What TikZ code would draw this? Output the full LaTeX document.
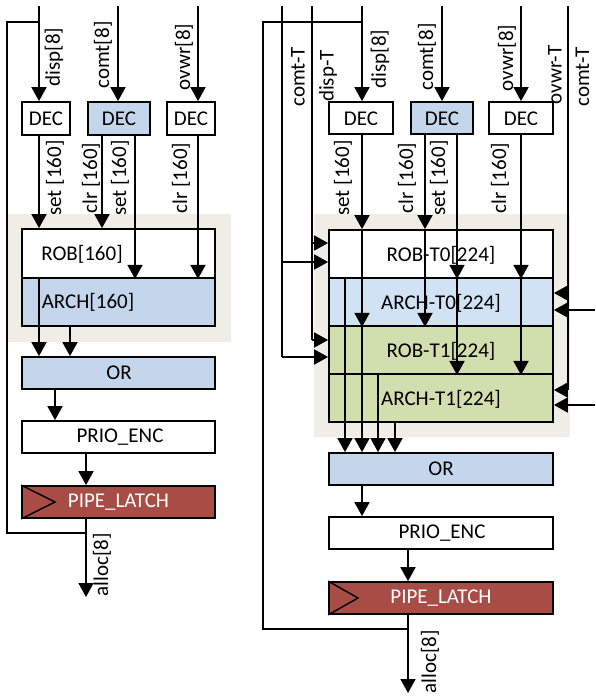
\documentclass[tikz,border=0pt]{standalone}
\usepackage{fontspec}
\setmainfont{Carlito}
\usetikzlibrary{arrows.meta}
\definecolor{bggrey}{HTML}{EEEEE6}
\definecolor{blueL}{HTML}{C4D6EB}
\definecolor{blueR}{HTML}{D0E2F4}
\definecolor{greenR}{HTML}{D1DEAE}
\definecolor{redL}{HTML}{A84C46}
\tikzset{
  box/.style={draw=black, line width=1.8pt, inner sep=0pt},
  txt/.style={inner sep=0pt, font=\fontsize{21}{25}\selectfont},
  vtxt/.style={txt, rotate=90},
  wire/.style={line width=1.8pt},
  arr/.style={wire, -{Triangle[length=14pt,width=15pt]}},
  bgpanel/.style={fill=bggrey, draw=none},
}
\begin{document}
\begin{tikzpicture}[x=1pt,y=-1pt]
\useasboundingbox (0,0) rectangle (595,696);
% ---------- backgrounds ----------
\fill[bgpanel] (8,214) rectangle (231,342);
\fill[bgpanel] (314,214) rectangle (570,437);

% ================= LEFT =================
\node[box, fill=white, minimum width=48, minimum height=33] (dec1L) at (46,118.5) {};
\node[box, fill=blueL, minimum width=62, minimum height=33] (dec2L) at (119,118.5) {};
\node[box, fill=white, minimum width=48, minimum height=33] (dec3L) at (191,118.5) {};
\node[txt] (dec1Lt) at (46,119) {DEC};
\node[txt] (dec2Lt) at (119,119) {DEC};
\node[txt] (dec3Lt) at (191,119) {DEC};

\node[box, fill=white, minimum width=193, minimum height=49] (robL) at (118.5,253.5) {};
\node[box, fill=blueL, minimum width=193, minimum height=48] (archL) at (118.5,302) {};
\node[txt] (robLt) at (82,254) {ROB[160]};
\node[txt] (archLt) at (88,302) {ARCH[160]};

\node[box, fill=blueL, minimum width=193, minimum height=32] (orL) at (118.5,373) {};
\node[txt] (orLt) at (119,373) {OR};
\node[box, fill=white, minimum width=193, minimum height=32] (prioL) at (118.5,437) {};
\node[txt] (prioLt) at (120,437) {PRIO\_ENC};
\node[box, fill=redL, minimum width=193, minimum height=32] (pipeL) at (118.5,502) {};
\node[txt, text=white] (pipeLt) at (118.5,502) {PIPE\_LATCH};
\draw[line width=1.4pt] (pipeL.north west) -- (55,502) -- (pipeL.south west);

% inputs
\coordinate (inDispL) at (39,6);
\coordinate (inComtL) at (118,6);
\coordinate (inOvwrL) at (198,6);
\coordinate (fbTopL) at (39,22);
\draw[arr] (inDispL) -- (inDispL |- dec1L.north);
\draw[arr] (inComtL) -- (inComtL |- dec2L.north);
\draw[arr] (inOvwrL) -- (inOvwrL |- dec3L.north);
\coordinate (outL) at (86,597);
\draw[wire] (fbTopL) -- (7,22) -- (7,533) -- (outL |- 0,533);

% decoder outputs
\coordinate (s1L) at (39,0);
\coordinate (c2L) at (102,0);
\coordinate (s2L) at (135,0);
\coordinate (c3L) at (198,0);
\draw[arr] (s1L |- dec1L.south) -- (s1L |- robL.north);
\draw[arr] (c2L |- dec2L.south) -- (c2L |- robL.north);
\draw[arr] (s2L |- dec2L.south) -- (s2L |- robL.south);
\draw[arr] (c3L |- dec3L.south) -- (c3L |- robL.south);
% to OR
\draw[arr] (s1L |- robL.south) -- (s1L |- orL.north);
\coordinate (a2L) at (70,0);
\draw[arr] (a2L |- archL.south) -- (a2L |- orL.north);
\coordinate (o1L) at (55,0);
\draw[arr] (o1L |- orL.south) -- (o1L |- prioL.north);
\draw[arr] (outL |- prioL.south) -- (outL |- pipeL.north);
\draw[arr] (outL |- pipeL.south) -- (outL);

% labels
\node[vtxt] (lDispL) at (54,57) {disp[8]};
\node[vtxt] (lComtL) at (103,55) {comt[8]};
\node[vtxt] (lOvwrL) at (184,57) {ovwr[8]};
\node[vtxt] (lS1L) at (55,178) {set [160]};
\node[vtxt] (lC2L) at (91,178) {clr [160]};
\node[vtxt] (lS2L) at (120,178) {set [160]};
\node[vtxt] (lC3L) at (181,178) {clr [160]};
\node[vtxt] (lAllocL) at (102,565) {alloc[8]};

% ================= RIGHT =================
\node[box, fill=white, minimum width=64, minimum height=32] (dec1R) at (361,118) {};
\node[box, fill=blueL, minimum width=62, minimum height=32] (dec2R) at (442,118) {};
\node[box, fill=white, minimum width=64, minimum height=32] (dec3R) at (521,118) {};
\node[txt] (dec1Rt) at (361,119) {DEC};
\node[txt] (dec2Rt) at (442,119) {DEC};
\node[txt] (dec3Rt) at (521,119) {DEC};

\node[box, fill=white, minimum width=224, minimum height=48] (rob0) at (441,254) {};
\node[box, fill=blueR, minimum width=224, minimum height=48] (arch0) at (441,302) {};
\node[box, fill=greenR, minimum width=224, minimum height=48] (rob1) at (441,350) {};
\node[box, fill=greenR, minimum width=224, minimum height=48] (arch1) at (441,398) {};
\node[txt] (rob0t) at (441,255) {ROB-T0[224]};
\node[txt] (arch0t) at (441,303) {ARCH-T0[224]};
\node[txt] (rob1t) at (441,351) {ROB-T1[224]};
\node[txt] (arch1t) at (441,399) {ARCH-T1[224]};

\node[box, fill=blueL, minimum width=224, minimum height=32] (orR) at (441,469) {};
\node[txt] (orRt) at (441,469) {OR};
\node[box, fill=white, minimum width=224, minimum height=32] (prioR) at (441,533) {};
\node[txt] (prioRt) at (442,533) {PRIO\_ENC};
\node[box, fill=redL, minimum width=224, minimum height=32] (pipeR) at (441,598) {};
\node[txt, text=white] (pipeRt) at (441,598) {PIPE\_LATCH};
\draw[line width=1.4pt] (pipeR.north west) -- (358,598) -- (pipeR.south west);

% inputs
\coordinate (inDispR) at (362,6);
\coordinate (inComtR) at (442,6);
\coordinate (inOvwrR) at (521,6);
\coordinate (fbTopR) at (362,22);
\draw[arr] (inDispR) -- (inDispR |- dec1R.north);
\draw[arr] (inComtR) -- (inComtR |- dec2R.north);
\draw[arr] (inOvwrR) -- (inOvwrR |- dec3R.north);
\coordinate (outR) at (408,693);
\draw[wire] (fbTopR) -- (263,22) -- (263,629) -- (outR |- 0,629);

% thread signals, left
\coordinate (cTtop) at (282,6);
\coordinate (dTtop) at (312,6);
\draw[wire] (cTtop) -- (282,357);
\draw[wire] (dTtop) -- (312,340);
\draw[arr] (312,243) -- (rob0.west |- 0,243);
\draw[arr] (282,262) -- (rob0.west |- 0,262);
\draw[arr] (312,340) -- (rob1.west |- 0,340);
\draw[arr] (282,357) -- (rob1.west |- 0,357);
% thread signals, right
\coordinate (oTtop) at (568,6);
\coordinate (cTR) at (595,0);
\draw[wire] (oTtop) -- (568,390);
\draw[arr] (568,293) -- (arch0.east |- 0,293);
\draw[arr] (cTR |- 0,310) -- (arch0.east |- 0,310);
\draw[arr] (568,390) -- (arch1.east |- 0,390);
\draw[arr] (cTR |- 0,405) -- (arch1.east |- 0,405);

% decoder outputs
\coordinate (s1R) at (362,0);
\coordinate (c2R) at (425,0);
\coordinate (s2R) at (457,0);
\coordinate (c3R) at (521,0);
\draw[arr] (s1R |- dec1R.south) -- (s1R |- rob0.north);
\draw[arr] (s1R |- rob0.north) -- (s1R |- arch0.south);
\draw[arr] (s1R |- arch0.south) -- (s1R |- orR.north);
\draw[arr] (c2R |- dec2R.south) -- (c2R |- rob0.north);
\draw[arr] (c2R |- rob0.north) -- (c2R |- arch0.south);
\draw[arr] (s2R |- dec2R.south) -- (s2R |- rob0.south);
\draw[arr] (s2R |- rob0.south) -- (s2R |- rob1.south);
\draw[arr] (c3R |- dec3R.south) -- (c3R |- rob0.south);
\draw[arr] (c3R |- rob0.south) -- (c3R |- rob1.south);
% to OR
\coordinate (a1R) at (345,0);
\coordinate (a3R) at (378,0);
\coordinate (a4R) at (395,0);
\draw[arr] (a1R |- arch0.north) -- (a1R |- orR.north);
\draw[arr] (a3R |- arch1.north) -- (a3R |- orR.north);
\draw[arr] (a4R |- arch1.south) -- (a4R |- orR.north);
\draw[arr] (s1R |- orR.south) -- (s1R |- prioR.north);
\draw[arr] (outR |- prioR.south) -- (outR |- pipeR.north);
\draw[arr] (outR |- pipeR.south) -- (outR);

% labels
\node[vtxt] (lcTL) at (298,77) {comt-T};
\node[vtxt] (ldT) at (328,76) {disp-T};
\node[vtxt] (lDispR) at (380,59) {disp[8]};
\node[vtxt] (lComtR) at (427,57) {comt[8]};
\node[vtxt] (lOvwrR) at (507,58) {ovwr[8]};
\node[vtxt] (loT) at (555,75) {ovwr-T};
\node[vtxt] (lcTR) at (582.5,77) {comt-T};
\node[vtxt] (lS1R) at (343,178) {set [160]};
\node[vtxt] (lC2R) at (407,178) {clr [160]};
\node[vtxt] (lS2R) at (439,178) {set [160]};
\node[vtxt] (lC3R) at (500,178) {clr [160]};
\node[vtxt] (lAllocR) at (430,662) {alloc[8]};
\end{tikzpicture}
\end{document}
